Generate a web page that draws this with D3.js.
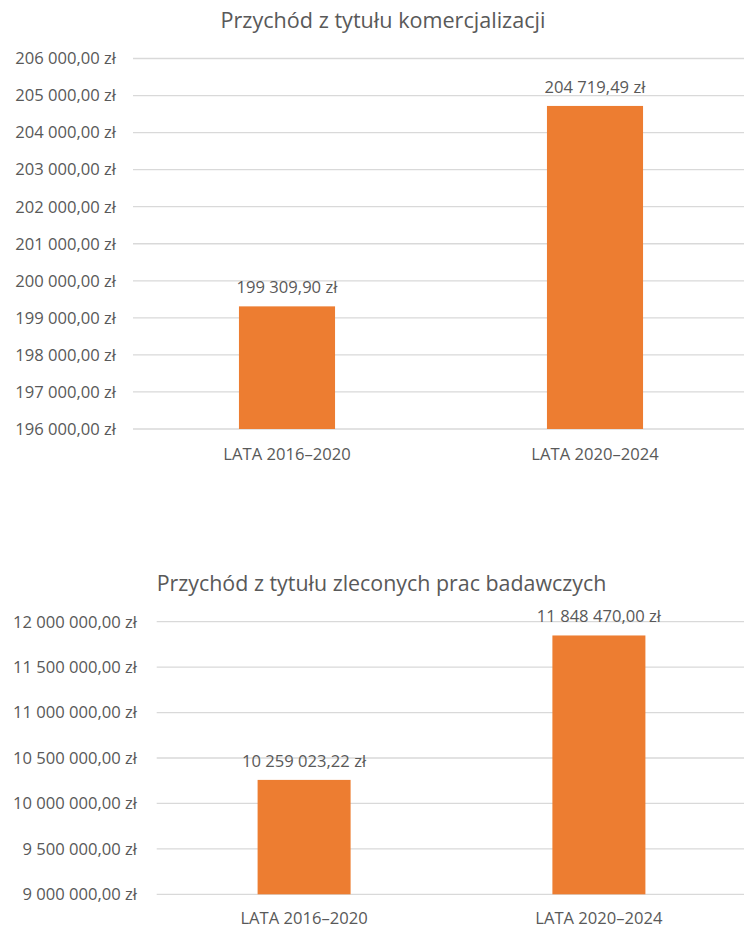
<!DOCTYPE html>
<html><head><meta charset="utf-8">
<script src="https://cdn.jsdelivr.net/npm/d3@7"></script>
<style>body{margin:0;background:#fff}svg{display:block}text{font-family:"Open Sans",sans-serif;fill:#595959}</style>
</head><body>
<svg id="c" width="744" height="928"></svg>
<script>
const categories = ["LATA 2016–2020", "LATA 2020–2024"];
const values1 = [199309.90, 204719.49];
const values2 = [10259023.22, 11848470.00];
const title1 = "Przychód z tytułu komercjalizacji";
const title2 = "Przychód z tytułu zleconych prac badawczych";
const ticks1 = [196000,197000,198000,199000,200000,201000,202000,203000,204000,205000,206000];
const ticks2 = [9000000,9500000,10000000,10500000,11000000,11500000,12000000];

const loc = d3.formatLocale({decimal:",", thousands:" ", grouping:[3], currency:[""," zł"]});
const fmt = loc.format("$,.2f");
const svg = d3.select("#c");

function chart(cfg){
  const g = svg.append("g");
  const x = d3.scaleBand().domain(categories).range([cfg.x0, cfg.x1]).paddingInner(cfg.pin).paddingOuter(cfg.pin/2);
  const y = d3.scaleLinear().domain([cfg.ticks[0], cfg.ticks[cfg.ticks.length-1]]).range([cfg.y0, cfg.y1]);
  g.append("text").attr("x", cfg.tx).attr("y", cfg.ty).attr("text-anchor","middle").style("font-size", cfg.tfs+"px").text(cfg.title);
  const ax = d3.axisLeft(y).tickValues(cfg.ticks).tickFormat(fmt).tickSize(0).tickPadding(0);
  const ag = g.append("g").attr("transform", `translate(${cfg.lx},0)`).call(ax);
  ag.select(".domain").remove();
  ag.selectAll("text").style("font-size", cfg.fs+"px").style("font-family",'"Open Sans",sans-serif').attr("fill","#595959");
  g.selectAll("line.grid").data(cfg.ticks).enter().append("line").attr("class","grid")
    .attr("x1", cfg.x0).attr("x2", 744).attr("y1", d=>y(d)).attr("y2", d=>y(d))
    .attr("stroke","#D9D9D9").attr("stroke-width",1.3);
  g.selectAll("rect").data(cfg.values).enter().append("rect")
    .attr("x",(d,i)=>x(categories[i])).attr("width",x.bandwidth())
    .attr("y",d=>y(d)).attr("height",d=>y(cfg.ticks[0])-y(d)).attr("fill","#ED7D31");
  g.selectAll("text.lbl").data(cfg.values).enter().append("text").attr("class","lbl")
    .attr("x",(d,i)=>x(categories[i])+x.bandwidth()/2).attr("y",d=>y(d)-cfg.lo)
    .attr("text-anchor","middle").style("font-size",cfg.fs+"px").text(d=>fmt(d));
  g.selectAll("text.cat").data(categories).enter().append("text").attr("class","cat")
    .attr("x",d=>x(d)+x.bandwidth()/2).attr("y",cfg.cy)
    .attr("text-anchor","middle").style("font-size",cfg.fs+"px").text(d=>d);
}

chart({title:title1, values:values1, ticks:ticks1, x0:133, x1:749, pin:0.688, y0:429, y1:58.5,
  tx:383, ty:28, tfs:21.6, lx:116, fs:16.6, lo:13, cy:460});
chart({title:title2, values:values2, ticks:ticks2, x0:156.7, x1:746.3, pin:0.6845, y0:894.3, y1:621.7,
  tx:381.5, ty:591, tfs:21.4, lx:137, fs:16.6, lo:13, cy:924});
</script>
</body></html>
